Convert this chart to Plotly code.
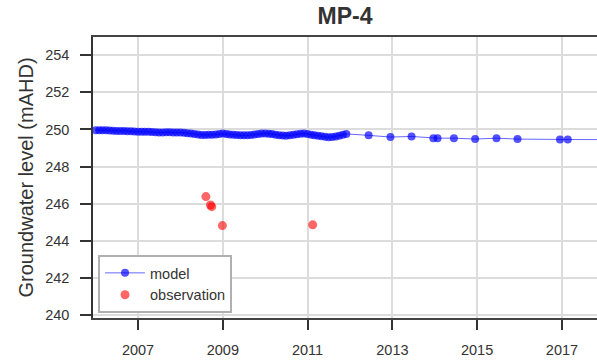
import pandas as pd
import plotly.graph_objects as go

# Modelled groundwater level: monthly through 2011, then sparse output dates
model_dense_start = "2006-01-01"
model_dense_values = [
    249.96, 249.96, 249.95, 249.95, 249.94, 249.93, 249.92, 249.92, 249.91, 249.90, 249.90, 249.89,
    249.88, 249.88, 249.87, 249.87, 249.86, 249.85, 249.84, 249.84, 249.85, 249.85, 249.84, 249.84,
    249.84, 249.82, 249.80, 249.78, 249.76, 249.73, 249.70, 249.70, 249.71, 249.72, 249.73, 249.76,
    249.78, 249.76, 249.73, 249.71, 249.70, 249.69, 249.68, 249.68, 249.70, 249.73, 249.76, 249.78,
    249.78, 249.77, 249.75, 249.72, 249.69, 249.67, 249.66, 249.68, 249.71, 249.74, 249.77, 249.78,
    249.76, 249.72, 249.69, 249.66, 249.63, 249.60, 249.58, 249.59, 249.62, 249.66, 249.72, 249.76,
]
model_sparse_dates = [
    "2012-06-10", "2012-12-15", "2013-06-15", "2013-12-20", "2014-01-25", "2014-06-15",
    "2014-12-15", "2015-06-17", "2015-12-15", "2016-12-15", "2017-02-20", "2018-03-01",
]
model_sparse_values = [
    249.68, 249.59, 249.62, 249.53, 249.53, 249.53,
    249.48, 249.53, 249.48, 249.46, 249.46, 249.45,
]

# Observed groundwater level
obs_dates = ["2008-08-08", "2008-09-16", "2008-09-27", "2008-12-28", "2011-02-14"]
obs_values = [246.38, 245.93, 245.84, 244.82, 244.86]

# Axis ticks
x_tick_dates = ["2007-01-01", "2009-01-01", "2011-01-01", "2013-01-01", "2015-01-01", "2017-01-01"]
x_tick_labels = ["2007", "2009", "2011", "2013", "2015", "2017"]
y_tick_values = [240, 242, 244, 246, 248, 250, 252, 254]

dense_dates = pd.date_range(model_dense_start, periods=len(model_dense_values), freq="MS")
model_dates = list(dense_dates.strftime("%Y-%m-%d")) + model_sparse_dates
model_values = model_dense_values + model_sparse_values

text_color = "#333333"
font_family = "Liberation Sans, Arial, sans-serif"

fig = go.Figure()
fig.add_trace(go.Scatter(
    x=model_dates, y=model_values, name="model", mode="lines+markers",
    line=dict(color="rgba(0,0,255,0.6)", width=1),
    marker=dict(color="rgba(0,0,255,0.68)", size=8, line=dict(width=0)),
))
fig.add_trace(go.Scatter(
    x=obs_dates, y=obs_values, name="observation", mode="markers",
    marker=dict(color="rgba(255,0,0,0.6)", size=9, line=dict(width=0)),
))

fig.update_layout(
    width=597, height=363,
    margin=dict(l=93, r=0, t=37, b=45),
    plot_bgcolor="white", paper_bgcolor="white",
    font=dict(family=font_family, size=14.5, color=text_color),
    title=dict(text="<b>MP-4</b>", x=0.5, xref="paper", xanchor="center",
               y=1 - 16 / 363, yref="container", yanchor="middle",
               font=dict(size=23, color=text_color)),
    showlegend=True,
    legend=dict(x=0.01, y=0.018, xanchor="left", yanchor="bottom",
                bgcolor="white", bordercolor="#b0b0b0", borderwidth=2,
                itemwidth=40,
                font=dict(size=14.5, color=text_color), tracegroupgap=0),
)

fig.update_xaxes(
    type="date", range=["2005-12-09", "2017-10-30"],
    tickmode="array", tickvals=x_tick_dates, ticktext=x_tick_labels,
    ticks="outside", ticklen=10, tickwidth=1.5, tickcolor="#333333",
    ticklabelstandoff=8,
    showline=True, linecolor="#444444", linewidth=1.5, mirror=True,
    showgrid=True, gridcolor="#dcdcdc", gridwidth=1.5, zeroline=False,
)
fig.update_yaxes(
    range=[239.84, 254.98],
    tickmode="array", tickvals=y_tick_values,
    ticks="outside", ticklen=11, tickwidth=1.5, tickcolor="#333333",
    ticklabelstandoff=8,
    showline=True, linecolor="#333333", linewidth=1.5,
    showgrid=True, gridcolor="#dcdcdc", gridwidth=1.5, zeroline=False,
)

fig.add_annotation(
    text="Groundwater level (mAHD)", textangle=-90,
    xref="paper", yref="paper", x=0, y=0.5, xshift=-68,
    xanchor="center", yanchor="middle", showarrow=False,
    font=dict(size=20, color=text_color),
)

fig.write_html("out.html")
